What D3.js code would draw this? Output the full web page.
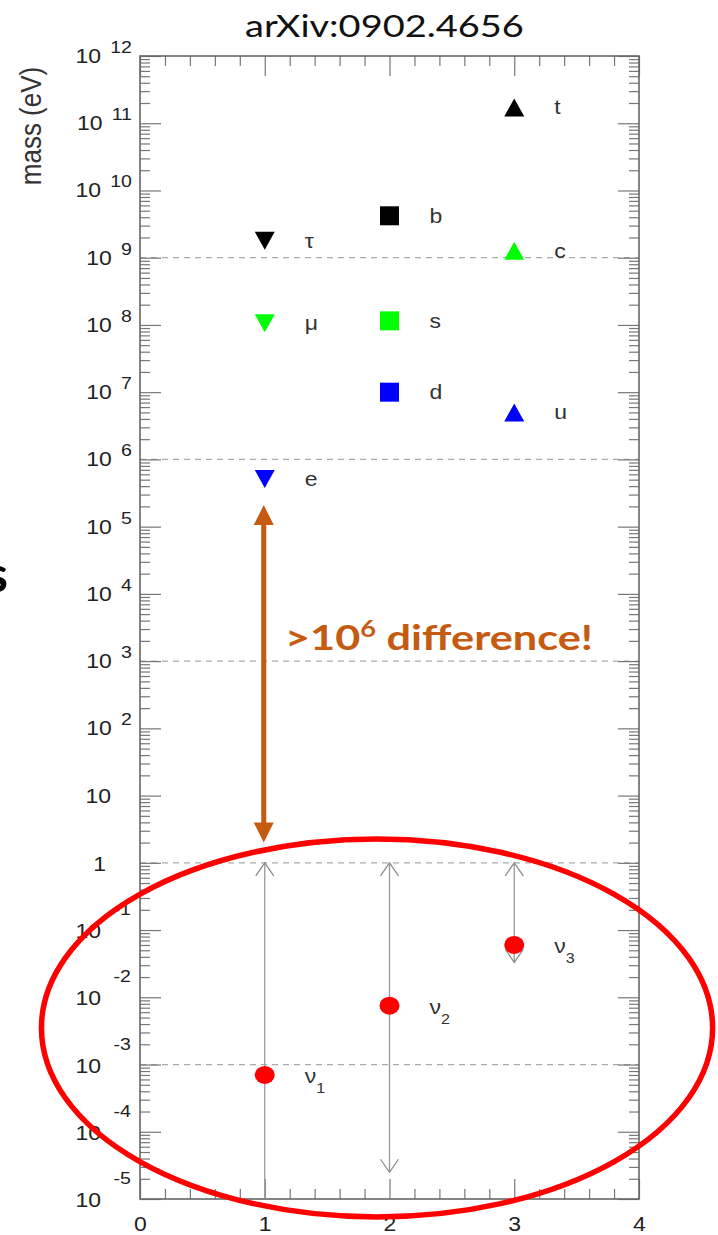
<!DOCTYPE html>
<html>
<head>
<meta charset="utf-8">
<script src="https://cdn.jsdelivr.net/npm/d3@7"></script>
<style>
  body { margin: 0; background: #fff; }
</style>
</head>
<body>
<svg width="718" height="1235" font-family="'Liberation Sans', Arial, Helvetica, sans-serif"></svg>
<script>
// charged fermions, one column per family type (masses in eV)
var leptonNames = ["τ", "μ", "e"];
var leptonMass  = [1.78e9, 1.06e8, 5.11e5];
var downNames   = ["b", "s", "d"];
var downMass    = [4.2e9, 1.15e8, 1.0e7];
var upNames     = ["t", "c", "u"];
var upMass      = [1.72e11, 1.27e9, 5.0e6];

// neutrinos: point, and the allowed range drawn as arrows
var nuIndex = ["1", "2", "3"];
var nuMass  = [7.0e-4, 7.5e-3, 6.0e-2];
var nuUpper = [1, 1, 1];
var nuLower = [1e-5, 2.5e-5, 3.3e-2];

var yExps    = [-5, -4, -3, -2, -1, 0, 1, 2, 3, 4, 5, 6, 7, 8, 9, 10, 11, 12];
var gridExps = [9, 6, 3, 0, -3];
var xTicks   = [0, 1, 2, 3, 4];
var diffArrow = [2.1e5, 2.0];   // from the electron down to ~1 eV

var genColor = ["#000000", "#00ff00", "#0000ff"];
var orange = "#c55a11";
var slideFont = "Lato, 'Open Sans', sans-serif";
var plotFont = "'Liberation Sans', Arial, Helvetica, sans-serif";

var svg = d3.select("svg");
var x = d3.scaleLinear().domain([0, 4]).range([140, 639]);
var y = d3.scaleLog().domain([1e-5, 1e12]).range([1199, 56]);
var decade = y(1) - y(10);

// the source picture is a bit wider than tall, text included
var SX = 1.15;
function squeeze(sel, ax) {
  sel.attr("transform", "translate(" + ax + ",0) scale(" + SX + ",1) translate(" + (-ax) + ",0)");
}
function stretchTo(sel, width) {
  var b = sel.node().getBBox();
  var s = width / b.width;
  sel.attr("transform", "translate(" + b.x + ",0) scale(" + s + ",1) translate(" + (-b.x) + ",0)");
}

// dashed guide lines
svg.append("g").selectAll("line").data(gridExps).join("line")
  .attr("x1", x(0)).attr("x2", x(4))
  .attr("y1", function(d) { return y(Math.pow(10, d)); })
  .attr("y2", function(d) { return y(Math.pow(10, d)); })
  .attr("stroke", "#aaa").attr("stroke-width", 1.2).attr("stroke-dasharray", "6,5");

// ticks on all four sides, pointing inwards
var yMajor = yExps.map(function(e) { return Math.pow(10, e); });
var yMinor = [];
yExps.slice(0, -1).forEach(function(e) {
  for (var m = 2; m <= 9; m++) yMinor.push(m * Math.pow(10, e));
});
var xMinor = d3.range(0, 4.001, 0.2).filter(function(v) { return Math.abs(v - Math.round(v)) > 1e-6; });

function axisG(axis, tx, ty) {
  var g = svg.append("g").attr("transform", "translate(" + tx + "," + ty + ")")
    .attr("color", "#777").call(axis);
  g.select(".domain").remove();
  g.selectAll("line").attr("stroke-width", 1.2);
  return g;
}
axisG(d3.axisLeft(y).tickValues(yMajor).tickSize(-21).tickFormat(""), 140, 0);
axisG(d3.axisLeft(y).tickValues(yMinor).tickSize(-10).tickFormat(""), 140, 0);
axisG(d3.axisRight(y).tickValues(yMajor).tickSize(-21).tickFormat(""), 639, 0);
axisG(d3.axisRight(y).tickValues(yMinor).tickSize(-10).tickFormat(""), 639, 0);
axisG(d3.axisTop(x).tickValues(xTicks).tickSize(-20).tickFormat(""), 0, 56);
axisG(d3.axisTop(x).tickValues(xMinor).tickSize(-10).tickFormat(""), 0, 56);
axisG(d3.axisBottom(x).tickValues(xMinor).tickSize(-10).tickFormat(""), 0, 1199);
var xb = axisG(d3.axisBottom(x).tickValues(xTicks).tickSize(-20).tickPadding(18).tickFormat(d3.format("d")), 0, 1199);
xb.attr("font-family", plotFont).attr("font-size", 20);
xb.selectAll("text").attr("fill", "#222")
  .each(function() { var t = d3.select(this); squeeze(t, 0); });

svg.append("rect")
  .attr("x", x(0)).attr("y", y(1e12))
  .attr("width", x(4) - x(0)).attr("height", y(1e-5) - y(1e12))
  .attr("fill", "none").attr("stroke", "#666").attr("stroke-width", 1.6);

// y tick labels 10^n
var lab = svg.append("g").attr("fill", "#222").attr("font-size", 20);
yExps.forEach(function(e) {
  var ty = y(Math.pow(10, e)), t;
  if (e === 0) {
    t = lab.append("text").attr("x", 106).attr("y", ty + 8).attr("text-anchor", "end").text("1");
    squeeze(t, 106);
  } else if (e === 1) {
    t = lab.append("text").attr("x", 111).attr("y", ty + 7).attr("text-anchor", "end").text("10");
    squeeze(t, 111);
  } else if (e > 1) {
    t = lab.append("text").attr("x", 132).attr("y", ty + 7).attr("text-anchor", "end");
    t.append("tspan").text("10");
    t.append("tspan").attr("dx", 8).attr("dy", -10).attr("font-size", 17).text(e);
    squeeze(t, 132);
  } else {
    t = lab.append("text").attr("x", 101).attr("y", ty + 8).attr("text-anchor", "end").text("10");
    squeeze(t, 101);
    t = lab.append("text").attr("x", 131).attr("y", ty - 15).attr("text-anchor", "end")
      .attr("font-size", 17).text("-" + (-e));
    squeeze(t, 131);
  }
});

svg.append("text")
  .attr("transform", "translate(41,126) scale(" + SX + ",1) rotate(-90)")
  .attr("text-anchor", "middle").attr("font-size", 26).attr("fill", "#333")
  .text("mass (eV)");

// neutrino ranges
var nuG = svg.append("g");
nuMass.forEach(function(m, i) {
  var cx = x(i + 1), y0 = y(nuUpper[i]), y1 = y(nuLower[i]);
  nuG.append("line").attr("x1", cx).attr("x2", cx).attr("y1", y0).attr("y2", y1)
    .attr("stroke", "#999").attr("stroke-width", 1.3);
  nuG.append("path").attr("d", "M" + (cx - 9) + "," + (y0 + 13) + "L" + cx + "," + y0 + "L" + (cx + 9) + "," + (y0 + 13))
    .attr("fill", "none").attr("stroke", "#888").attr("stroke-width", 1.2);
  if (nuLower[i] > y.domain()[0]) {
    nuG.append("path").attr("d", "M" + (cx - 9) + "," + (y1 - 13) + "L" + cx + "," + y1 + "L" + (cx + 9) + "," + (y1 - 13))
      .attr("fill", "none").attr("stroke", "#888").attr("stroke-width", 1.2);
  }
});

// charged fermion markers
var columns = [
  { names: leptonNames, mass: leptonMass, pos: 1, shape: "M-10,-9L10,-9L0,9Z" },
  { names: downNames,   mass: downMass,   pos: 2, shape: "M-9.5,-9.5h19v19h-19z" },
  { names: upNames,     mass: upMass,     pos: 3, shape: "M-10,9L10,9L0,-9Z" }
];
var mk = svg.append("g");
columns.forEach(function(c) {
  c.mass.forEach(function(m, i) {
    var px = x(c.pos), py = y(m);
    mk.append("path").attr("d", c.shape)
      .attr("transform", "translate(" + px + "," + py + ")")
      .attr("fill", genColor[i]);
    var t = mk.append("text").attr("x", px + 40).attr("y", py + 7)
      .attr("font-size", 20).attr("fill", "#333").text(c.names[i]);
    squeeze(t, px + 40);
  });
});

nuMass.forEach(function(m, i) {
  var px = x(i + 1), py = y(m);
  mk.append("ellipse").attr("cx", px).attr("cy", py).attr("rx", 10).attr("ry", 9).attr("fill", "#ff0000");
  var t = mk.append("text").attr("x", px + 40).attr("y", py + 8)
    .attr("font-size", 20).attr("fill", "#333");
  t.append("tspan").text("ν");
  t.append("tspan").attr("dy", 10).attr("font-size", 14).text(nuIndex[i]);
  squeeze(t, px + 40);
});

// orange "gap" arrow
var ax = x(1) - 1, aTop = y(diffArrow[0]), aBot = y(diffArrow[1]);
svg.append("line").attr("x1", ax).attr("x2", ax).attr("y1", aTop + 18).attr("y2", aBot - 18)
  .attr("stroke", orange).attr("stroke-width", 5);
svg.append("path").attr("d", "M" + ax + "," + aTop + "L" + (ax + 10) + "," + (aTop + 20) + "L" + (ax - 10) + "," + (aTop + 20) + "Z")
  .attr("fill", orange);
svg.append("path").attr("d", "M" + ax + "," + aBot + "L" + (ax + 10) + "," + (aBot - 20) + "L" + (ax - 10) + "," + (aBot - 20) + "Z")
  .attr("fill", orange);

var note = svg.append("text").attr("x", 285).attr("y", y(1e3) - 11)
  .style("font-family", slideFont).attr("font-weight", "bold")
  .attr("font-size", 35).attr("fill", orange);
note.append("tspan").text(">10");
note.append("tspan").attr("dy", -13).attr("font-size", 22).text("6");
note.append("tspan").attr("dy", 13).text(" difference!");
stretchTo(note, 308);

// red ellipse round the neutrinos
svg.append("ellipse")
  .attr("cx", x(1.9)).attr("cy", y(3.5e-3))
  .attr("rx", x(2.69) - x(0)).attr("ry", 2.81 * decade)
  .attr("fill", "none").attr("stroke", "#ff0000").attr("stroke-width", 5.5);

// title and the clipped slide letter
var title = svg.append("text").attr("x", 245).attr("y", 37)
  .style("font-family", slideFont)
  .attr("font-size", 31).attr("fill", "#111").text("arXiv:0902.4656");
stretchTo(title, 279);

svg.append("text").attr("x", 8).attr("y", 592).attr("text-anchor", "end")
  .style("font-family", slideFont).attr("font-weight", "bold")
  .attr("font-size", 50).attr("fill", "#000").text("s");
</script>
</body>
</html>
